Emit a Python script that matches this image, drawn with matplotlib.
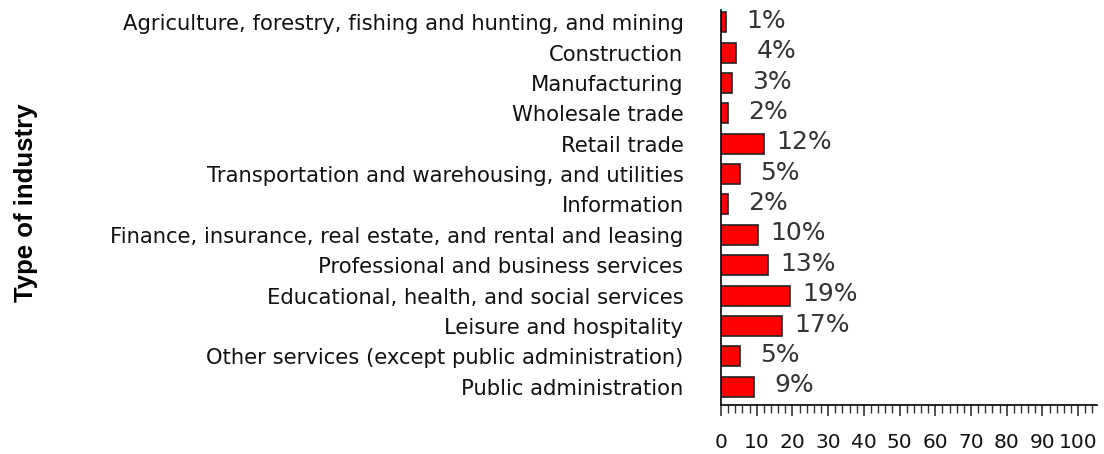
import numpy as np
import matplotlib.pyplot as plt
from matplotlib.ticker import MultipleLocator

# industries, top to bottom
industries = [
    "Agriculture, forestry, fishing and hunting, and mining",
    "Construction",
    "Manufacturing",
    "Wholesale trade",
    "Retail trade",
    "Transportation and warehousing, and utilities",
    "Information",
    "Finance, insurance, real estate, and rental and leasing",
    "Professional and business services",
    "Educational, health, and social services",
    "Leisure and hospitality",
    "Other services (except public administration)",
    "Public administration",
]
shares = [1.4, 4.2, 3.0, 2.0, 12.0, 5.3, 2.0, 10.4, 13.2, 19.3, 17.0, 5.3, 9.2]
share_labels = ["1%", "4%", "3%", "2%", "12%", "5%", "2%", "10%", "13%", "19%", "17%", "5%", "9%"]

fig = plt.figure(figsize=(11.04, 4.54), dpi=100)
ax = fig.add_axes([721 / 1104, 1 - 405 / 454, (1097 - 721) / 1104, 395 / 454])

ypos = np.arange(len(industries))
ax.barh(ypos, shares, height=0.66, color="#ff0000", edgecolor="#222222", linewidth=1.2)

# percent labels sit a bit right of each bar end
for y, v, lab in zip(ypos, shares, share_labels):
    ax.annotate(lab, (v, y), xytext=(29, 1), textcoords="offset points",
                ha="center", va="center", fontsize=18, color="#333333",
                family="DejaVu Sans")

ax.set_ylim(12.6, -0.4)
ax.set_yticks(ypos)
ax.set_yticklabels(industries, fontsize=15.2, family="DejaVu Sans", color="#111111")
ax.tick_params(axis="y", length=0, pad=27)

ax.set_xticks(np.arange(0, 101, 10))
ax.xaxis.set_minor_locator(MultipleLocator(2))
ax.set_xticklabels([str(t) for t in range(0, 101, 10)], fontsize=14.5, family="DejaVu Sans", color="#111111")
ax.tick_params(axis="x", which="major", length=8, width=1.2, pad=12, color="#333333")
ax.tick_params(axis="x", which="minor", length=6, width=1.0, color="#333333")
ax.set_xlim(0, 105.3)

for s in ["top", "right"]:
    ax.spines[s].set_visible(False)
ax.spines["left"].set_linewidth(1.2)
ax.spines["bottom"].set_linewidth(1.2)

fig.text(26 / 1104, 1 - 203 / 454, "Type of industry", rotation=90, ha="center", va="center",
         fontsize=18.5, fontweight="bold", family="Liberation Sans")

fig.savefig("out.png", dpi=100)
